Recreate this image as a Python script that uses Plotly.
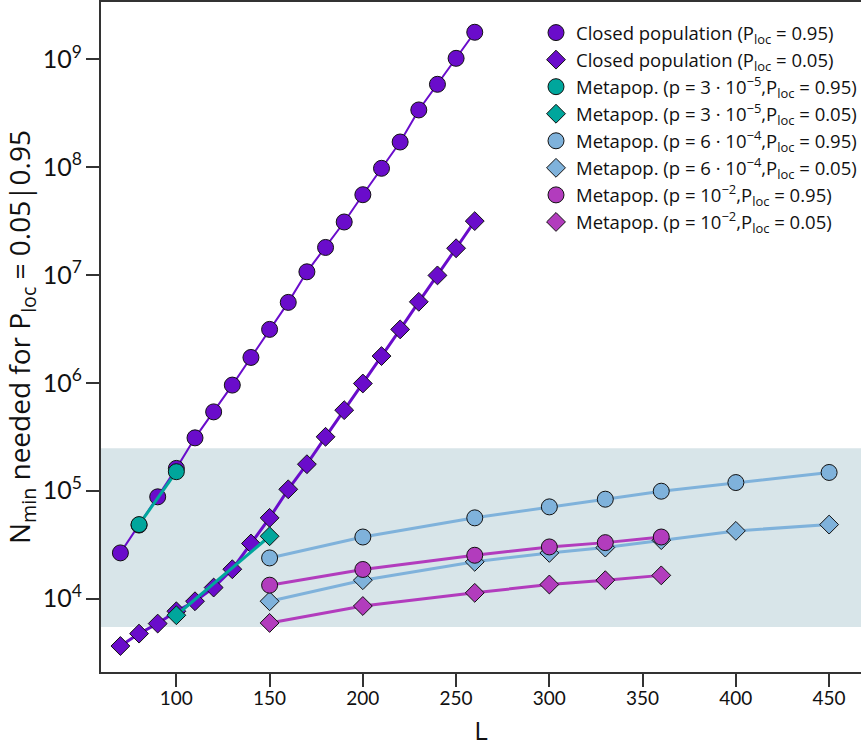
import plotly.graph_objects as go

# ---- data ----
L_closed = [70, 80, 90, 100, 110, 120, 130, 140, 150, 160, 170, 180, 190, 200, 210, 220, 230, 240, 250, 260]
closed_95 = [2.65e4, 4.8e4, 8.77e4, 1.61e5, 3.09e5, 5.38e5, 9.53e5, 1.72e6, 3.13e6, 5.57e6,
             1.07e7, 1.80e7, 3.10e7, 5.55e7, 9.75e7, 1.71e8, 3.39e8, 5.86e8, 1.02e9, 1.78e9]
closed_05 = [3630, 4730, 5860, 7620, 9440, 12650, 18700, 32400, 56000, 1.03e5,
             1.76e5, 3.16e5, 5.58e5, 9.86e5, 1.77e6, 3.13e6, 5.64e6, 9.91e6, 1.77e7, 3.16e7]

L_teal_95 = [80, 100]
teal_95 = [4.85e4, 1.50e5]
L_teal_05 = [100, 150]
teal_05 = [7000, 37800]

L_meta = [150, 200, 260, 300, 330, 360, 400, 450]
blue_95 = [23800, 37200, 56000, 70800, 83400, 98900, 119000, 147600]
blue_05 = [9440, 14800, 21900, 26500, 29700, 34800, 42400, 48500]

L_mag = [150, 200, 260, 300, 330, 360]
mag_95 = [13300, 18600, 25200, 30100, 33000, 37200]
mag_05 = [5940, 8530, 11300, 13500, 14800, 16400]

band_low, band_high = 5450, 2.48e5

names = [
    "Closed population (P<sub>loc</sub> = 0.95)",
    "Closed population (P<sub>loc</sub> = 0.05)",
    "Metapop. (p = 3 · 10<sup>−5</sup>,P<sub>loc</sub> = 0.95)",
    "Metapop. (p = 3 · 10<sup>−5</sup>,P<sub>loc</sub> = 0.05)",
    "Metapop. (p = 6 · 10<sup>−4</sup>,P<sub>loc</sub> = 0.95)",
    "Metapop. (p = 6 · 10<sup>−4</sup>,P<sub>loc</sub> = 0.05)",
    "Metapop. (p = 10<sup>−2</sup>,P<sub>loc</sub> = 0.95)",
    "Metapop. (p = 10<sup>−2</sup>,P<sub>loc</sub> = 0.05)",
]

PURPLE = "#6a0ccb"
TEAL = "#00a69c"
BLUE = "#7fb2db"
MAG = "#b23cbd"

FONT = "Lato"
LEGFONT = "Open Sans"

series = [
    (L_closed, closed_95, PURPLE, "circle", 2),
    (L_closed, closed_05, PURPLE, "diamond", 3),
    (L_teal_95, teal_95, TEAL, "circle", 3),
    (L_teal_05, teal_05, TEAL, "diamond", 3),
    (L_meta, blue_95, BLUE, "circle", 3),
    (L_meta, blue_05, BLUE, "diamond", 3),
    (L_mag, mag_95, MAG, "circle", 3),
    (L_mag, mag_05, MAG, "diamond", 3),
]

fig = go.Figure()
for (xs, ys, col, sym, lw), nm in zip(series, names):
    mk = dict(symbol=sym, size=16 if sym == "circle" else 14.5, color=col,
              line=dict(color="#111111", width=1))
    fig.add_trace(go.Scatter(
        x=xs, y=ys, name=nm, mode="lines+markers", showlegend=False,
        line=dict(color=col, width=lw), marker=mk,
    ))
# legend entries: markers only (as in the reference)
for (xs, ys, col, sym, lw), nm in zip(series, names):
    mk = dict(symbol=sym, size=16 if sym == "circle" else 14.5, color=col,
              line=dict(color="#111111", width=1))
    fig.add_trace(go.Scatter(x=[None], y=[None], name=nm, mode="markers", marker=mk))

fig.add_shape(type="rect", xref="paper", yref="y", x0=0, x1=1,
              y0=band_low, y1=band_high, fillcolor="#d8e5e9",
              line=dict(width=0), layer="below")

fig.update_layout(
    width=862, height=748,
    margin=dict(l=101, r=0, t=2, b=76),
    paper_bgcolor="white", plot_bgcolor="white",
    font=dict(family=FONT, color="#111111"),
    showlegend=True,
    legend=dict(x=0.572, y=0.982, xanchor="left", yanchor="top",
                font=dict(size=18.5, family=LEGFONT), bgcolor="rgba(0,0,0,0)",
                tracegroupgap=0, itemwidth=30),
    xaxis=dict(range=[59.6, 467.1], tickvals=[100, 150, 200, 250, 300, 350, 400, 450],
               ticks="outside", ticklen=13, tickwidth=1.5, tickcolor="#333333",
               showline=True, linecolor="#333333", linewidth=2, mirror=True,
               showgrid=False, zeroline=False, automargin=False,
               ticklabelstandoff=-5,
               tickfont=dict(size=19, family=FONT),
               title=dict(text="L", font=dict(size=26, family=LEGFONT), standoff=14)),
    yaxis=dict(type="log", range=[3.319, 9.531], dtick=1, exponentformat="power",
               ticks="outside", ticklen=13, tickwidth=1.5, tickcolor="#333333",
               showline=True, linecolor="#333333", linewidth=2, mirror=False,
               showgrid=False, zeroline=False, automargin=False,
               tickfont=dict(size=20, family=FONT),
               title=dict(text="N<sub>min</sub> needed for P<sub>loc</sub> = 0.05|0.95",
                          font=dict(size=28, family=LEGFONT), standoff=8)),
)

fig.write_html("out.html", config={"displayModeBar": False},
               post_script="document.body.style.margin='0';")
